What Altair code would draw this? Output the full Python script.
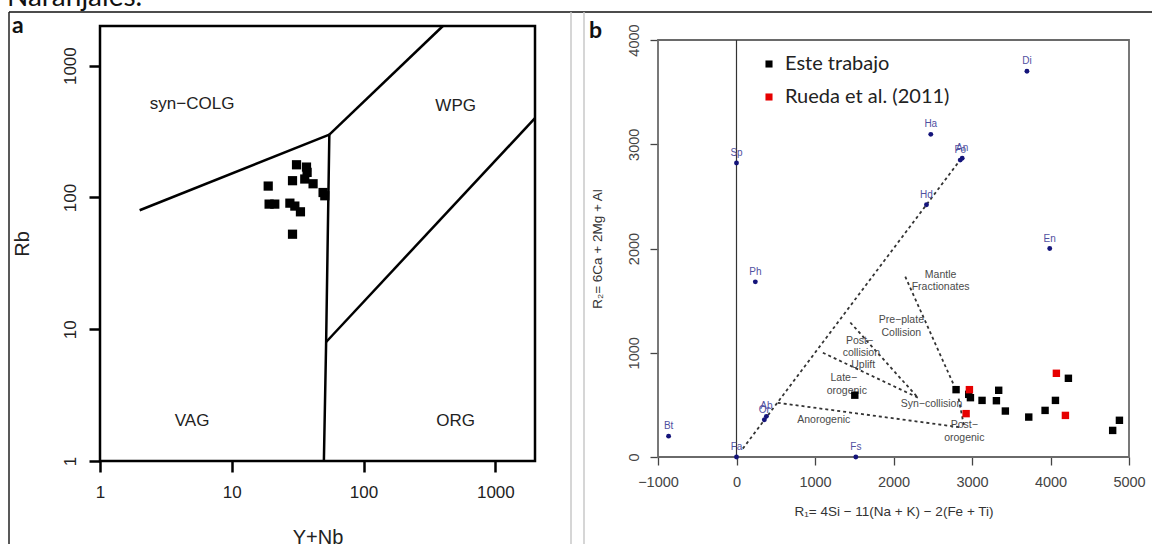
import altair as alt
import pandas as pd

# ---------------- Panel a : Rb vs Y+Nb ----------------
a_ynb = [31.0, 36.9, 37.3, 35.8, 41.4, 28.9, 18.9, 49.3, 50.8, 19.2, 21.2, 27.6, 30.1, 33.2, 28.9]
a_rb = [177, 170, 155, 138, 127, 134, 122, 109, 103, 89, 89, 90.5, 86, 77.8, 52.6]

a_bound_id = ["l1", "l1", "l2", "l2", "l3", "l3", "l3", "l4", "l4"]
a_bound_x = [2, 55, 55, 400, 50, 52, 55, 52, 2000]
a_bound_y = [80, 300, 300, 2000, 1, 8, 300, 8, 400]

a_field_text = ["syn\u2212COLG", "WPG", "VAG", "ORG"]
a_field_x = [5, 500, 5, 500]
a_field_y = [512, 494, 2, 2]

a_ticks = [1, 10, 100, 1000]
a_limits = [1, 2000]

# ---------------- Panel b : R1 - R2 ----------------
b_min_name = ["Di", "Ha", "An", "Fo", "Hd", "Sp", "En", "Ph", "Ab", "Or", "Bt", "Fa", "Fs"]
b_min_r1 = [3700, 2475, 2875, 2850, 2420, 0, 3990, 240, 381, 355, -865, 0, 1520]
b_min_r2 = [3700, 3095, 2865, 2848, 2420, 2820, 2000, 1680, 390, 358, 200, 0, 0]

b_seg_id = ["s1", "s1", "s2", "s2", "s3", "s3", "s4", "s4", "s5", "s5", "s6", "s6"]
b_seg_r1 = [80, 2850, 525, 2850, 1100, 2310, 1450, 2310, 2150, 2810, 2830, 2900]
b_seg_r2 = [80, 2850, 520, 285, 1000, 570, 1290, 570, 1730, 620, 560, 290]

b_lab_text = ["Mantle", "Fractionates", "Pre\u2212plate", "Collision", "Post\u2212", "collision",
              "Uplift", "Late\u2212", "orogenic", "Syn\u2212collision", "Anorogenic", "Post\u2212", "orogenic"]
b_lab_r1 = [2600, 2600, 2100, 2100, 1567, 1590, 1614, 1367, 1405, 2484, 1112, 2902, 2902]
b_lab_r2 = [1750, 1635, 1312, 1192, 1112, 996, 879, 759, 636, 513, 353, 303, 187]

b_black_r1 = [1507, 2797, 2958, 2980, 3128, 3311, 3340, 3425, 3723, 3931, 4063, 4228, 4792, 4878]
b_black_r2 = [593, 646, 601, 569, 543, 540, 640, 441, 383, 447, 543, 755, 255, 352]
b_red_r1 = [2967, 2925, 4075, 4190]
b_red_r2 = [646, 416, 803, 399]

b_ticks_x = [-1000, 0, 1000, 2000, 3000, 4000, 5000]
b_ticks_y = [0, 1000, 2000, 3000, 4000]
b_limits_x = [-1000, 5000]
b_limits_y = [0, 4000]

legend_names = ["Este trabajo", "Rueda et al. (2011)"]
legend_colors = ["#000000", "#e60000"]

FONT = "Liberation Sans"
W, H = 1152, 544

# ---------------- scales / axes ----------------
xa_scale = alt.Scale(type="log", domain=a_limits, range=[100, 535], nice=False)
ya_scale = alt.Scale(type="log", domain=a_limits, range=[461, 26], nice=False)
xa_axis = alt.Axis(values=a_ticks, format="d", orient="bottom", offset=461 - H, grid=False,
                   domain=False, tickSize=11, tickWidth=2.5, tickColor="black",
                   labelFont=FONT, labelFontSize=17, labelColor="#222", labelPadding=12,
                   labelFlush=False, labelOverlap=False,
                   title="Y+Nb", titleFont=FONT, titleFontSize=20, titleFontWeight="normal",
                   titleColor="#222", titlePadding=27)
ya_axis = alt.Axis(values=a_ticks, format="d", orient="left", offset=-100, grid=False,
                   domain=False, tickSize=11, tickWidth=2.5, tickColor="black",
                   labelFont=FONT, labelFontSize=17, labelColor="#222", labelPadding=10,
                   labelAngle=270, labelAlign="center", labelBaseline="bottom",
                   labelFlush=False, labelOverlap=False,
                   title="Rb", titleFont=FONT, titleFontSize=20, titleFontWeight="normal",
                   titleColor="#222", titlePadding=29)

xb_scale = alt.Scale(domain=b_limits_x, range=[658, 1129], nice=False, zero=False)
yb_scale = alt.Scale(domain=b_limits_y, range=[457, 40], nice=False, zero=False)
xb_axis = alt.Axis(values=b_ticks_x, format="d", orient="bottom", offset=457 - H, grid=False,
                   domain=False, tickSize=8, tickWidth=1.3, tickColor="#444",
                   labelFont=FONT, labelFontSize=14.5, labelColor="#444", labelPadding=10,
                   labelFlush=False, labelOverlap=False,
                   title="R\u2081= 4Si \u2212 11(Na + K) \u2212 2(Fe + Ti)", titleFont=FONT,
                   titleFontSize=13.5, titleFontWeight="normal", titleColor="#333", titlePadding=16)
yb_axis = alt.Axis(values=b_ticks_y, format="d", orient="left", offset=-658, grid=False,
                   domain=False, tickSize=8, tickWidth=1.3, tickColor="#444",
                   labelFont=FONT, labelFontSize=14.5, labelColor="#444", labelPadding=9,
                   labelAngle=270, labelAlign="center", labelBaseline="bottom",
                   labelFlush=False, labelOverlap=False,
                   title="R\u2082= 6Ca + 2Mg + Al", titleFont=FONT, titleFontSize=13.5,
                   titleFontWeight="normal", titleColor="#333", titlePadding=22)


def XA(f="x"):
    return alt.X(f"{f}:Q", scale=xa_scale, axis=xa_axis)


def YA(f="y"):
    return alt.Y(f"{f}:Q", scale=ya_scale, axis=ya_axis)


def XB(f="x"):
    return alt.X(f"{f}:Q", scale=xb_scale, axis=xb_axis)


def YB(f="y"):
    return alt.Y(f"{f}:Q", scale=yb_scale, axis=yb_axis)


# ---------------- panel a layers ----------------
dfa_pts = pd.DataFrame({"x": a_ynb, "y": a_rb})
dfa_lines = pd.DataFrame({"id": a_bound_id, "x": a_bound_x, "y": a_bound_y,
                          "o": list(range(len(a_bound_x)))})
dfa_text = pd.DataFrame({"x": a_field_x, "y": a_field_y, "t": a_field_text})
dfa_frame = pd.DataFrame({"x": [a_limits[0]], "x2": [a_limits[1]],
                          "y": [a_limits[0]], "y2": [a_limits[1]]})

frameA = alt.Chart(dfa_frame).mark_rect(filled=False, stroke="black", strokeWidth=2.5).encode(
    x=XA("x"), x2="x2:Q", y=YA("y"), y2="y2:Q")
linesA = alt.Chart(dfa_lines).mark_line(color="black", strokeWidth=2.5).encode(
    x=XA(), y=YA(), detail="id:N", order="o:Q")
ptsA = alt.Chart(dfa_pts).mark_square(size=85, color="black", opacity=1).encode(x=XA(), y=YA())
textA = alt.Chart(dfa_text).mark_text(font=FONT, fontSize=17, color="#222").encode(
    x=XA(), y=YA(), text="t:N")
panelA = alt.layer(frameA, linesA, ptsA, textA)

# ---------------- panel b layers ----------------
dfb_frame = pd.DataFrame({"x": [b_limits_x[0]], "x2": [b_limits_x[1]],
                          "y": [b_limits_y[0]], "y2": [b_limits_y[1]]})
dfb_vline = pd.DataFrame({"x": [0], "y": [b_limits_y[0]], "y2": [b_limits_y[1]]})
dfb_seg = pd.DataFrame({"id": b_seg_id, "x": b_seg_r1, "y": b_seg_r2,
                        "o": list(range(len(b_seg_r1)))})
dfb_lab = pd.DataFrame({"x": b_lab_r1, "y": b_lab_r2, "t": b_lab_text})
dfb_min = pd.DataFrame({"x": b_min_r1, "y": b_min_r2, "t": b_min_name})
dfb_pts = pd.DataFrame({
    "x": b_black_r1 + b_red_r1,
    "y": b_black_r2 + b_red_r2,
    "src": [legend_names[0]] * len(b_black_r1) + [legend_names[1]] * len(b_red_r1),
})

frameB = alt.Chart(dfb_frame).mark_rect(filled=False, stroke="#6a6a6a", strokeWidth=1.8).encode(
    x=XB("x"), x2="x2:Q", y=YB("y"), y2="y2:Q")
vlineB = alt.Chart(dfb_vline).mark_rule(color="#333", strokeWidth=1.2).encode(
    x=XB("x"), y=YB("y"), y2="y2:Q")
segB = alt.Chart(dfb_seg).mark_line(color="#333", strokeWidth=1.8, strokeDash=[3, 3]).encode(
    x=XB(), y=YB(), detail="id:N", order="o:Q")
labB = alt.Chart(dfb_lab).mark_text(font=FONT, fontSize=10.5, color="#4a4a4a").encode(
    x=XB(), y=YB(), text="t:N")
minB = alt.Chart(dfb_min).mark_circle(size=24, color="#14147a", opacity=1).encode(x=XB(), y=YB())
minLabB = alt.Chart(dfb_min).mark_text(font=FONT, fontSize=10, color="#5050a0", dy=-10).encode(
    x=XB(), y=YB(), text="t:N")
ptsB = alt.Chart(dfb_pts).mark_square(size=55, opacity=1).encode(
    x=XB(), y=YB(),
    color=alt.Color("src:N", scale=alt.Scale(domain=legend_names, range=legend_colors),
                    legend=alt.Legend(orient="none", legendX=759, legendY=54, title=None,
                                      symbolType="square", symbolSize=50, symbolStrokeWidth=0,
                                      labelFont="Lato", labelFontSize=20, labelColor="#222",
                                      labelLimit=400, labelOffset=6, rowPadding=13, padding=0)))
panelB = alt.layer(frameB, vlineB, segB, labB, minB, minLabB, ptsB)

# ---------------- page decorations ----------------
one = pd.DataFrame({"k": [0]})
topLine = alt.Chart(one).mark_rule(color="#111", strokeWidth=1.5).encode(
    x=alt.value(9), x2=alt.value(W), y=alt.value(12))
leftLine = alt.Chart(one).mark_rule(color="#222", strokeWidth=1.5).encode(
    x=alt.value(9), y=alt.value(12), y2=alt.value(H))
div1 = alt.Chart(one).mark_rule(color="#c8c8c8", strokeWidth=1.5).encode(
    x=alt.value(571), y=alt.value(12), y2=alt.value(H))
div2 = alt.Chart(one).mark_rule(color="#c8c8c8", strokeWidth=1.5).encode(
    x=alt.value(584), y=alt.value(12), y2=alt.value(H))
caption = alt.Chart(pd.DataFrame({"t": ["Naranjales."]})).mark_text(
    font="Lato", fontSize=28, color="#111", align="left", baseline="alphabetic").encode(
    x=alt.value(7), y=alt.value(5.5), text="t:N")
letterA = alt.Chart(pd.DataFrame({"t": ["a"]})).mark_text(
    font="Lato", fontSize=23, fontWeight="bold", color="#111", align="left",
    baseline="alphabetic").encode(x=alt.value(12), y=alt.value(33), text="t:N")
letterB = alt.Chart(pd.DataFrame({"t": ["b"]})).mark_text(
    font="Lato", fontSize=23, fontWeight="bold", color="#111", align="left",
    baseline="alphabetic").encode(x=alt.value(589), y=alt.value(38), text="t:N")
decor = alt.layer(topLine, leftLine, div1, div2, caption, letterA, letterB)

chart = alt.layer(decor, panelA, panelB).resolve_scale(
    x="independent", y="independent", color="independent"
).properties(
    width=W, height=H, autosize=alt.AutoSizeParams(type="none"), padding=0
).configure_view(stroke="transparent")

chart.save("out.html", embed_options={"renderer": "svg", "actions": False})
